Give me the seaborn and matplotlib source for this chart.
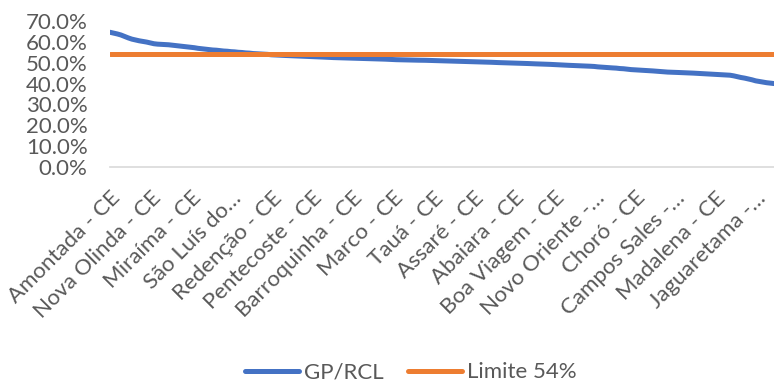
import matplotlib
matplotlib.use("Agg")
import matplotlib.pyplot as plt
import matplotlib.transforms as mtransforms
import seaborn as sns
import pandas as pd
from matplotlib.ticker import PercentFormatter, FixedLocator

# GP/RCL (% of net current revenue) per municipality, sorted in descending order
gp_rcl = [
    64.6, 64.2, 63.8, 63.3,
    62.6, 61.9, 61.3, 60.9,
    60.5, 60.2, 59.9, 59.5,
    59.1, 58.9, 58.8, 58.7,
    58.6, 58.4, 58.2, 58.0, 57.8, 57.6,
    57.4, 57.2, 56.9, 56.7, 56.5, 56.3,
    56.1, 56.0, 55.8, 55.6, 55.5, 55.3, 55.2,
    55.0, 54.9, 54.7, 54.6, 54.4, 54.3,
    54.2, 54.1, 54.0, 53.8, 53.7, 53.6,
    53.5, 53.45, 53.4, 53.3, 53.2, 53.15, 53.1, 53.0, 52.9, 52.85, 52.8, 52.7, 52.6, 52.5,
    52.45, 52.4, 52.35, 52.3, 52.25, 52.2, 52.15, 52.1, 52.05, 52.0, 51.95, 51.9, 51.85,
    51.8, 51.7, 51.6, 51.5, 51.45, 51.4, 51.35, 51.3, 51.3, 51.25, 51.2, 51.2,
    51.15, 51.1, 51.05, 51.0, 50.95, 50.9, 50.85, 50.8, 50.75, 50.7, 50.65, 50.6, 50.55, 50.5, 50.45, 50.4,
    50.3, 50.25, 50.2, 50.1, 50.05, 50.0, 49.95, 49.9, 49.85, 49.8, 49.7, 49.65, 49.6, 49.5, 49.45, 49.4, 49.35, 49.3, 49.2, 49.1,
    49.0, 48.9, 48.8, 48.75, 48.7, 48.6, 48.5, 48.45, 48.4, 48.3, 48.2, 48.0,
    47.9, 47.75, 47.6, 47.5, 47.4, 47.2, 47.1, 46.9, 46.7,
    46.6, 46.5, 46.4, 46.3, 46.2, 46.05, 45.9, 45.75, 45.6,
    45.5, 45.45, 45.4, 45.3, 45.2, 45.15, 45.1, 45.0, 44.9, 44.8,
    44.7, 44.6, 44.5, 44.4, 44.3, 44.2, 44.1, 44.0,
    43.7, 43.3, 42.9, 42.6, 42.2, 41.8, 41.3, 41.0, 40.7, 40.4, 40.2, 40.0,
]
limite = 54.0

# Municipality names shown on the category axis (every 11th entry)
tick_labels = [
    "Amontada - CE", "Nova Olinda - CE", "Miraíma - CE", "São Luís do…",
    "Redenção - CE", "Pentecoste - CE", "Barroquinha - CE", "Marco - CE",
    "Tauá - CE", "Assaré - CE", "Abaiara - CE", "Boa Viagem - CE",
    "Novo Oriente -…", "Choró - CE", "Campos Sales -…", "Madalena - CE",
    "Jaguaretama -…",
]
label_step = 11
y_ticks = [0, 10, 20, 30, 40, 50, 60, 70]

sns.set_theme(style="white")
plt.rcParams["font.family"] = ["Lato", "DejaVu Sans"]

n = len(gp_rcl)
df = pd.DataFrame({
    "pos": list(range(n)) * 2,
    "valor": gp_rcl + [limite] * n,
    "serie": ["GP/RCL"] * n + ["Limite 54%"] * n,
})

blue = "#4472C4"
orange = "#ED7D31"
grey = "#595959"
fs = 16

fig = plt.figure(figsize=(7.74, 3.82), dpi=100)
ax = fig.add_axes([0.142, 0.563, 0.858, 0.382])

sns.lineplot(data=df, x="pos", y="valor", hue="serie",
             palette={"GP/RCL": blue, "Limite 54%": orange},
             linewidth=3.6, ax=ax, legend=False)

ax.set_xlim(0, n - 1)
ax.set_ylim(0, 70)
ax.yaxis.set_major_locator(FixedLocator(y_ticks))
ax.yaxis.set_major_formatter(PercentFormatter(xmax=100, decimals=1))

positions = [i * label_step for i in range(len(tick_labels))]
ax.set_xticks(positions)
ax.set_xticklabels(tick_labels, rotation=45, ha="right",
                   rotation_mode="anchor", fontsize=fs, color=grey)
shift = mtransforms.ScaledTranslation(5 / 100, 0, fig.dpi_scale_trans)
for lbl in ax.get_xticklabels():
    lbl.set_transform(lbl.get_transform() + shift)
ax.tick_params(axis="y", labelsize=fs, labelcolor=grey, length=0, pad=16)
ax.tick_params(axis="x", length=0, pad=15)
ax.set_xlabel("")
ax.set_ylabel("")

for side in ["top", "right", "left"]:
    ax.spines[side].set_visible(False)
ax.spines["bottom"].set_color("#D9D9D9")
ax.spines["bottom"].set_linewidth(1.2)
ax.grid(False)

handles = [plt.Line2D([], [], color=blue, lw=3.6, solid_capstyle="round"),
           plt.Line2D([], [], color=orange, lw=3.6, solid_capstyle="round")]
leg = fig.legend(handles, ["GP/RCL", "Limite 54%"], loc="center",
                 bbox_to_anchor=(0.531, 0.025), ncol=2, frameon=False,
                 fontsize=fs, handlelength=2.4, handletextpad=0.25,
                 columnspacing=1.1)
for t in leg.get_texts():
    t.set_color(grey)

fig.savefig("out.png", dpi=100)
